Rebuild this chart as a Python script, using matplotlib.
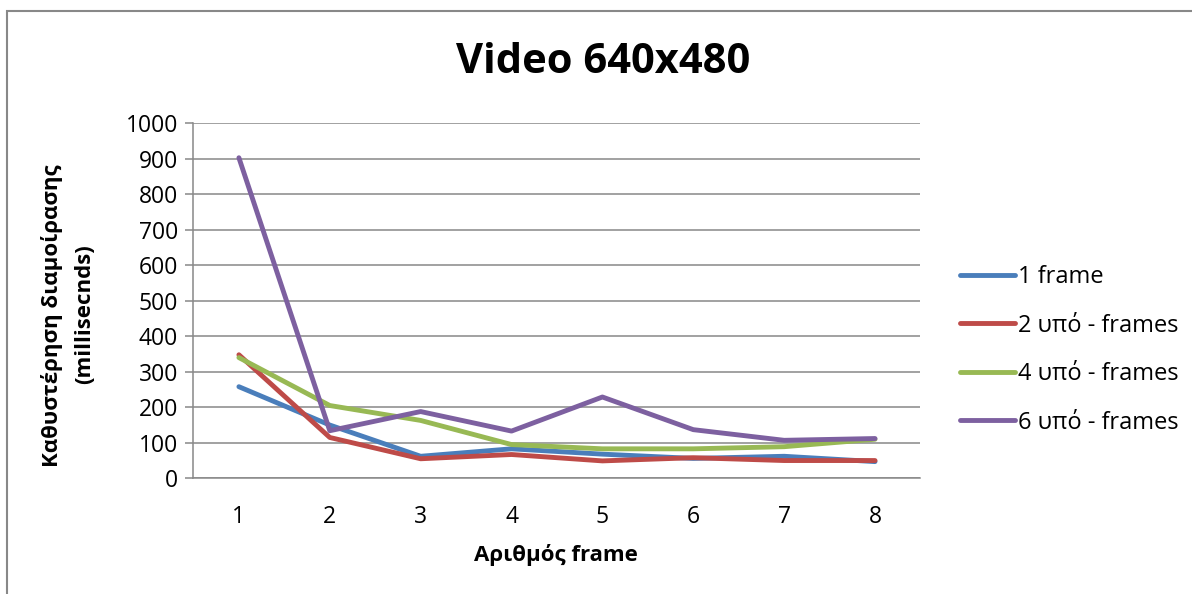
import matplotlib.pyplot as plt
from matplotlib.patches import Rectangle

plt.rcParams['font.family'] = ['Open Sans', 'DejaVu Sans']

# frame index on x, delay in milliseconds on y
frames = [1, 2, 3, 4, 5, 6, 7, 8]
one_frame = [258, 150, 62, 83, 68, 56, 62, 47]
two_sub = [348, 115, 55, 67, 49, 58, 50, 50]
four_sub = [340, 205, 163, 95, 83, 83, 89, 110]
six_sub = [903, 134, 188, 133, 229, 137, 107, 112]

series_names = ['1 frame', '2 υπό - frames', '4 υπό - frames', '6 υπό - frames']
series_colors = ['#4A7EBB', '#BE4B48', '#98B954', '#7D60A0']
yticks = list(range(0, 1001, 100))

fig = plt.figure(figsize=(11.92, 5.94), dpi=100)
ax = fig.add_axes([0.1623, 0.1948, 0.6099, 0.5976])

grid_gray = '#888888'
for vals, name, col in zip([one_frame, two_sub, four_sub, six_sub], series_names, series_colors):
    ax.plot(frames, vals, color=col, lw=3.5, label=name, solid_capstyle='round', solid_joinstyle='round')

ax.set_xlim(0.5, 8.5)
ax.set_ylim(0, 1000)
ax.set_yticks(yticks)
ax.set_xticks(frames)
ax.yaxis.grid(True, color=grid_gray, lw=1.1)
ax.set_axisbelow(True)
for side in ['top', 'right']:
    ax.spines[side].set_visible(False)
for side in ['left', 'bottom']:
    ax.spines[side].set_color(grid_gray)
    ax.spines[side].set_linewidth(1.1)
ax.tick_params(axis='y', length=6, width=1.1, color=grid_gray, labelsize=16.5, pad=5)
ax.tick_params(axis='x', length=0, labelsize=16.5, pad=19)

ax.legend(loc='center left', bbox_to_anchor=(1.054, 0.362), frameon=False, fontsize=17,
          handlelength=2.35, handletextpad=0.12, labelspacing=1.04,
          borderaxespad=0, borderpad=0)

fig.text(0.506, 0.895, 'Video 640x480', ha='center', va='center', fontsize=30, fontweight='bold')
fig.text(0.466, 0.066, 'Αριθμός frame', ha='center', va='center', fontsize=16, fontweight='bold')
fig.text(0.0436, 0.468, 'Καθυστέρηση διαμοίρασης', rotation=90, ha='center', va='center',
         fontsize=16, fontweight='bold')
fig.text(0.0713, 0.472, '(millisecnds)', rotation=90, ha='center', va='center',
         fontsize=16, fontweight='bold')

# outer chart border, open at the right and bottom edges
fig.patches.append(Rectangle((7 / 1192, -0.1), 1.2, 1.1 - 11 / 594, transform=fig.transFigure,
                             fill=False, edgecolor='#888888', lw=1.5))

fig.savefig('out.png', dpi=100)
